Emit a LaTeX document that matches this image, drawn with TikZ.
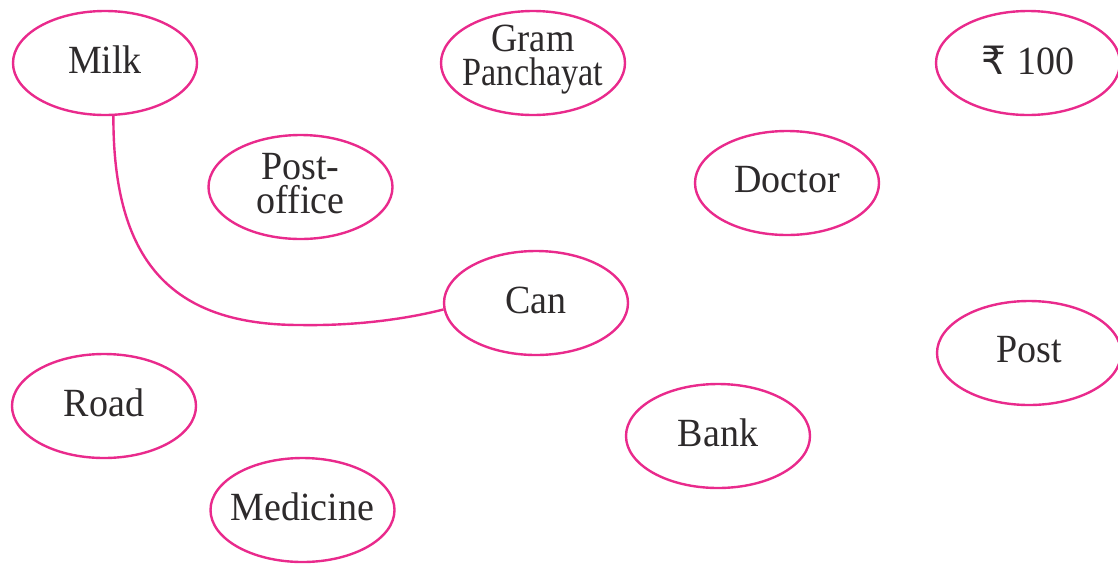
\documentclass[tikz,border=0pt]{standalone}
\usepackage{fontspec}
\setmainfont{Liberation Serif}[FakeStretch=0.95]
\newfontfamily\rupeefont{DejaVu Sans}
\usetikzlibrary{shapes.geometric}
\definecolor{pinkline}{RGB}{233,42,140}
\definecolor{txt}{RGB}{45,42,43}
\tikzset{
  lab/.style={text=txt, font=\fontsize{40}{34}\selectfont, align=center, inner sep=0pt, yshift=3pt},
  bub/.style={ellipse, draw=pinkline, line width=2.4pt, minimum width=184pt, minimum height=104pt, inner sep=0pt,
    label={[lab]center:#1}},
  link/.style={draw=pinkline, line width=2.4pt}
}
\begin{document}
\begin{tikzpicture}[x=1pt,y=-1pt]
\useasboundingbox (0,0) rectangle (1118,563);
\node[bub={\scalebox{0.96}[1]{Gram}\\\scalebox{0.9}[1]{Panchayat}}] (gram) at (533,63) {};
\node[bub={Milk}] (milk) at (105,63) {};
\node[bub={{\rupeefont\fontsize{39}{39}\selectfont ₹}\hspace{0.3em}100}] (rs) at (1028,63) {};
\node[bub={Post-\\office}] (po) at (300.5,187) {};
\node[bub={Doctor}] (doc) at (787,183) {};
\node[bub={Can}] (can) at (536,303) {};
\node[bub={Post}] (post) at (1029,353) {};
\node[bub={Road}] (road) at (104,406) {};
\node[bub={Bank}] (bank) at (718,436) {};
\node[bub={Medicine}] (med) at (302.5,510) {};
\coordinate (bend) at (300,325);
\draw[link] (milk.-81) .. controls (113,260) and (170,325) .. (bend)
  .. controls (360,326) and (410,318) .. (can.184);
\end{tikzpicture}
\end{document}
